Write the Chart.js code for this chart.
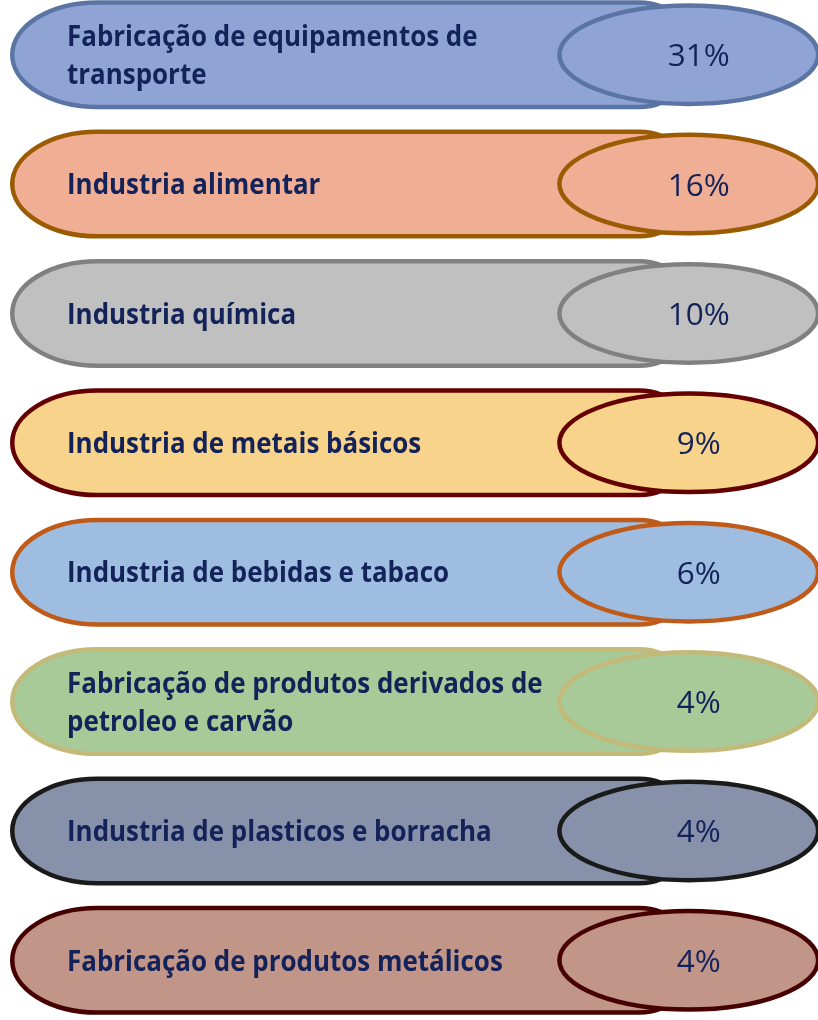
<!DOCTYPE html>
<html>
<head>
<meta charset="utf-8">
<script src="https://cdn.jsdelivr.net/npm/chart.js@4.4.1/dist/chart.umd.min.js"></script>
<style>
  html, body { margin: 0; padding: 0; background: #ffffff; overflow: hidden; width: 818px; height: 1020px; }
  #wrap { position: absolute; left: 0; top: -10px; width: 824px; height: 1035px; }
</style>
</head>
<body>
<div id="wrap"><canvas id="c" width="824" height="1035"></canvas></div>
<script>
// ---- data ----
const categories = [
  ['Fabricação de equipamentos de', 'transporte'],
  'Industria alimentar',
  'Industria química',
  'Industria de metais básicos',
  'Industria de bebidas e tabaco',
  ['Fabricação de produtos derivados de', 'petroleo e carvão'],
  'Industria de plasticos e borracha',
  'Fabricação de produtos metálicos'
];
const shares = [31, 16, 10, 9, 6, 4, 4, 4];
const shareLabels = ['31%', '16%', '10%', '9%', '6%', '4%', '4%', '4%'];
const fillColors = ['#8FA4D5', '#F0AE94', '#C0C0C0', '#F8D38B', '#9FBDE0', '#A8CA98', '#8891AA', '#C29589'];
const strokeColors = ['#5A74A4', '#9A5B02', '#808080', '#640000', '#C05A18', '#C3B978', '#1A1A1A', '#470000'];

// ---- style constants ----
const TEXT_COLOR = '#13235A';
const LINE_W = 4.5;
const CAP_RX = 85;          // horizontal radius of left cap
const RCAP_RX = 55;         // horizontal radius of (hidden) right cap
const BODY_END = 0.845;     // fraction of track where main pill ends
const ELL_CX = 0.838;       // ellipse centre, fraction of track
const ELL_RX = 0.1625;      // ellipse horizontal radius, fraction of track
const ELL_RY = 0.945;       // ellipse vertical radius relative to bar half height

function fitFont(ctx, weight, family, sample, targetW, targetCap) {
  ctx.font = weight + ' 100px ' + family;
  const m = ctx.measureText(sample);
  const size = 100 * targetW / m.width;
  const cap = ctx.measureText('I').actualBoundingBoxAscent * size / 100;
  return { font: weight + ' ' + size.toFixed(2) + 'px ' + family, sy: targetCap / cap };
}

const pillPlugin = {
  id: 'pills',
  afterDatasetsDraw(chart) {
    const ctx = chart.ctx;
    const xs = chart.scales.x;
    const x0 = xs.getPixelForValue(0);
    const x1 = xs.getPixelForValue(100);
    const W = x1 - x0;
    const meta = chart.getDatasetMeta(0);
    const lab = fitFont(ctx, 'bold', '"Open Sans", sans-serif', 'Industria de plasticos e borracha', 425, 20.5);
    const pct = fitFont(ctx, 'normal', '"Open Sans", sans-serif', '31%', 62, 23);
    meta.data.forEach((bar, i) => {
      const cy = bar.y;
      const hh = bar.height / 2;
      const top = cy - hh + LINE_W / 2;
      const bot = cy + hh - LINE_W / 2;
      const ry = hh - LINE_W / 2;
      const left = x0 + LINE_W / 2;
      const right = x0 + W * BODY_END;
      ctx.save();
      ctx.lineWidth = LINE_W;
      ctx.fillStyle = fillColors[i];
      ctx.strokeStyle = strokeColors[i];
      // main pill
      ctx.beginPath();
      ctx.moveTo(left + CAP_RX, top);
      ctx.lineTo(right - RCAP_RX, top);
      ctx.ellipse(right - RCAP_RX, cy, RCAP_RX, ry, 0, -Math.PI / 2, Math.PI / 2);
      ctx.lineTo(left + CAP_RX, bot);
      ctx.ellipse(left + CAP_RX, cy, CAP_RX, ry, 0, Math.PI / 2, Math.PI * 1.5);
      ctx.closePath();
      ctx.fill();
      ctx.stroke();
      // value ellipse
      const ecx = x0 + W * ELL_CX;
      const erx = W * ELL_RX - LINE_W / 2;
      const ery = hh * ELL_RY - LINE_W / 2;
      ctx.beginPath();
      ctx.ellipse(ecx, cy, erx, ery, 0, 0, Math.PI * 2);
      ctx.fill();
      ctx.stroke();
      // category label
      ctx.fillStyle = TEXT_COLOR;
      ctx.textAlign = 'left';
      ctx.textBaseline = 'alphabetic';
      ctx.font = lab.font;
      const lines = Array.isArray(categories[i]) ? categories[i] : [categories[i]];
      const lh = 38;
      lines.forEach((ln, k) => {
        const base = cy + 10.3 + (k - (lines.length - 1) / 2) * lh;
        ctx.save();
        ctx.translate(67, base);
        ctx.scale(1, lab.sy);
        ctx.fillText(ln, 0, 0);
        ctx.restore();
      });
      // share label
      ctx.font = pct.font;
      ctx.textAlign = 'center';
      ctx.save();
      ctx.translate(ecx + 10, cy + 11.5);
      ctx.scale(1, pct.sy);
      ctx.fillText(shareLabels[i], 0, 0);
      ctx.restore();
      ctx.restore();
    });
  }
};

new Chart(document.getElementById('c'), {
  type: 'bar',
  data: {
    labels: categories,
    datasets: [{
      data: shares,
      backgroundColor: 'rgba(0,0,0,0)',
      borderWidth: 0,
      barPercentage: 0.842,
      categoryPercentage: 1
    }]
  },
  options: {
    indexAxis: 'y',
    responsive: false,
    animation: false,
    devicePixelRatio: 1,
    layout: { padding: { left: 10, right: 4, top: 0, bottom: 0 } },
    plugins: { legend: { display: false }, tooltip: { enabled: false } },
    scales: {
      x: { display: false, min: 0, max: 100 },
      y: { display: false }
    }
  },
  plugins: [pillPlugin]
});
</script>
</body>
</html>
